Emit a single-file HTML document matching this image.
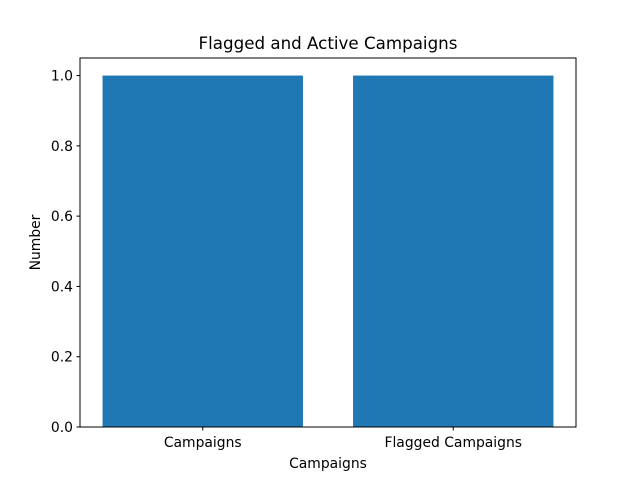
<!DOCTYPE html>
<html><head><meta charset="utf-8"><style>
body{margin:0;background:#fff;}
svg{display:block;font-family:"DejaVu Sans","Liberation Sans",sans-serif;}
</style></head><body>
<svg id="chart" width="640" height="480" xmlns="http://www.w3.org/2000/svg">
<rect width="640" height="480" fill="#fff"/>
<text x="328" y="49" font-size="16.7" text-anchor="middle">Flagged and Active Campaigns</text>
<g id="bars"></g>
<g id="yticks"></g>
<g id="xticks"></g>
<rect x="80" y="58" width="496" height="369" fill="none" stroke="#000" stroke-width="1"/>
<text x="328" y="468" font-size="13.9" text-anchor="middle">Campaigns</text>
<text transform="translate(40,242.5) rotate(-90)" font-size="13.9" text-anchor="middle">Number</text>
</svg>
<script>
const categories = ["Campaigns", "Flagged Campaigns"];
const values = [1, 1];
const yTickValues = [0, 0.2, 0.4, 0.6, 0.8, 1.0];
const yTickLabels = ["0.0", "0.2", "0.4", "0.6", "0.8", "1.0"];

const NS = "http://www.w3.org/2000/svg";
const L = 80, R = 576, T = 58, B = 427;
const yMax = Math.max(...values) * 1.05;
const xMin = -0.49, xMax = categories.length - 1 + 0.49;
const xs = v => L + (v - xMin) / (xMax - xMin) * (R - L);
const ys = v => B - v / yMax * (B - T);
const bw = 0.8;

const bars = document.getElementById('bars');
values.forEach((v, i) => {
  const r = document.createElementNS(NS, 'rect');
  r.setAttribute('x', xs(i - bw / 2));
  r.setAttribute('y', ys(v));
  r.setAttribute('width', xs(i + bw / 2) - xs(i - bw / 2));
  r.setAttribute('height', ys(0) - ys(v));
  r.setAttribute('fill', '#1f77b4');
  
  
  bars.appendChild(r);
});

const yt = document.getElementById('yticks');
yTickValues.forEach((v, i) => {
  const y = ys(v);
  const l = document.createElementNS(NS, 'line');
  l.setAttribute('x1', L - 3.5); l.setAttribute('x2', L);
  l.setAttribute('y1', y); l.setAttribute('y2', y);
  l.setAttribute('stroke', '#000');
  
  
  yt.appendChild(l);
  const t = document.createElementNS(NS, 'text');
  t.setAttribute('x', L - 7); t.setAttribute('y', y + 5);
  t.setAttribute('font-size', '13.9'); t.setAttribute('text-anchor', 'end');
  t.textContent = yTickLabels[i];
  
  
  yt.appendChild(t);
});

const xt = document.getElementById('xticks');
categories.forEach((c, i) => {
  const x = xs(i);
  const l = document.createElementNS(NS, 'line');
  l.setAttribute('x1', x); l.setAttribute('x2', x);
  l.setAttribute('y1', B); l.setAttribute('y2', B + 3.5);
  l.setAttribute('stroke', '#000');
  
  
  xt.appendChild(l);
  const t = document.createElementNS(NS, 'text');
  t.setAttribute('x', x); t.setAttribute('y', B + 20);
  t.setAttribute('font-size', '13.9'); t.setAttribute('text-anchor', 'middle');
  t.textContent = c;
  
  
  xt.appendChild(t);
});
</script>
</body></html>
